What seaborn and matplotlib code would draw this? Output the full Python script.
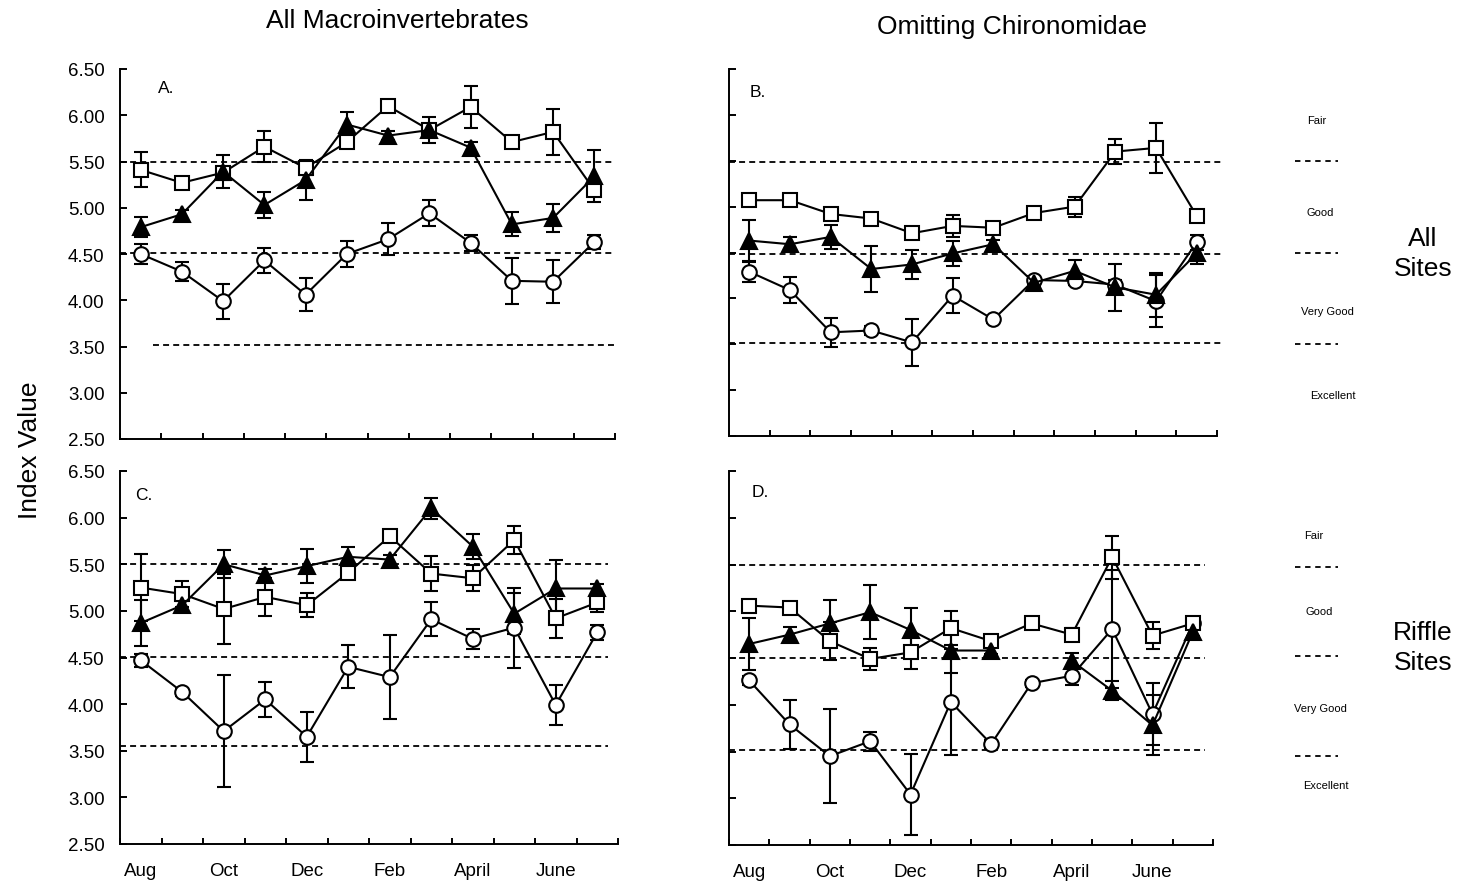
import numpy as np
import pandas as pd
import matplotlib
matplotlib.use("Agg")
import matplotlib.pyplot as plt
import matplotlib.transforms as mtransforms
from matplotlib.ticker import FormatStrFormatter
import seaborn as sns

sns.set_theme(style="ticks")
plt.rcParams["font.family"] = ["Liberation Sans", "DejaVu Sans"]
plt.rcParams.update({"text.color": "black", "axes.labelcolor": "black",
                     "xtick.color": "black", "ytick.color": "black",
                     "axes.edgecolor": "black"})

# Sampling months (Aug .. Jul), labelled every second month
months = np.arange(12) + 0.5
month_labels = ["Aug", "Oct", "Dec", "Feb", "April", "June"]
y_ticks = [2.5, 3.0, 3.5, 4.0, 4.5, 5.0, 5.5, 6.0, 6.5]
categories = ["Fair", "Good", "Very Good", "Excellent"]

# Panel A: all macroinvertebrates, all sites
sq_A = [5.41, 5.27, 5.38, 5.66, 5.43, 5.71, 6.10, 5.84, 6.09, 5.71, 5.82, 5.19]
sq_A_err = [0.19, 0.03, 0.05, 0.17, 0.08, 0.04, 0.04, 0.06, 0.23, 0.04, 0.25, 0.04]
tri_A = [4.79, 4.93, 5.39, 5.03, 5.30, 5.90, 5.78, 5.84, 5.65, 4.82, 4.89, 5.34]
tri_A_err = [0.11, 0.05, 0.18, 0.14, 0.22, 0.13, 0.05, 0.14, 0.06, 0.13, 0.15, 0.28]
circ_A = [4.50, 4.31, 3.99, 4.43, 4.06, 4.50, 4.66, 4.94, 4.62, 4.21, 4.20, 4.63]
circ_A_err = [0.11, 0.10, 0.19, 0.13, 0.18, 0.14, 0.17, 0.14, 0.09, 0.25, 0.23, 0.08]

# Panel B: omitting Chironomidae, all sites
sq_B = [5.07, 5.07, 4.92, 4.87, 4.71, 4.79, 4.77, 4.93, 5.00, 5.60, 5.64, 4.90]
sq_B_err = [0.05, 0.03, 0.04, 0.06, 0.03, 0.12, 0.03, 0.03, 0.11, 0.14, 0.27, 0.03]
tri_B = [4.63, 4.59, 4.67, 4.32, 4.37, 4.49, 4.59, 4.17, 4.30, 4.12, 4.04, 4.49]
tri_B_err = [0.22, 0.08, 0.13, 0.25, 0.16, 0.14, 0.05, 0.05, 0.12, 0.26, 0.24, 0.11]
circ_B = [4.29, 4.09, 3.63, 3.65, 3.52, 4.03, 3.77, 4.20, 4.19, 4.15, 3.97, 4.61]
circ_B_err = [0.11, 0.14, 0.16, 0.05, 0.26, 0.19, 0.04, 0.04, 0.04, 0.05, 0.28, 0.08]

# Panel C: all macroinvertebrates, riffle sites
sq_C = [5.25, 5.18, 5.02, 5.15, 5.06, 5.41, 5.80, 5.40, 5.35, 5.76, 4.92, 5.09]
sq_C_err = [0.36, 0.14, 0.38, 0.20, 0.13, 0.05, 0.05, 0.19, 0.14, 0.15, 0.21, 0.10]
tri_C = [4.87, 5.06, 5.50, 5.38, 5.48, 5.58, 5.55, 6.10, 5.69, 4.97, 5.24, 5.24]
tri_C_err = [0.25, 0.05, 0.15, 0.07, 0.18, 0.10, 0.05, 0.11, 0.13, 0.22, 0.31, 0.05]
circ_C = [4.47, 4.13, 3.71, 4.05, 3.65, 4.40, 4.29, 4.91, 4.70, 4.82, 3.99, 4.77]
circ_C_err = [0.07, 0.04, 0.60, 0.19, 0.27, 0.23, 0.45, 0.18, 0.11, 0.43, 0.21, 0.08]

# Panel D: omitting Chironomidae, riffle sites (no March triangle sample)
sq_D = [5.06, 5.04, 4.68, 4.49, 4.56, 4.82, 4.68, 4.87, 4.75, 5.58, 4.74, 4.87]
sq_D_err = [0.05, 0.05, 0.20, 0.12, 0.18, 0.18, 0.04, 0.04, 0.07, 0.23, 0.14, 0.05]
tri_D = [4.65, 4.75, 4.87, 4.99, 4.80, 4.58, 4.58, np.nan, 4.47, 4.15, 3.78, 4.78]
tri_D_err = [0.28, 0.08, 0.25, 0.29, 0.24, 0.24, 0.04, np.nan, 0.08, 0.10, 0.32, 0.05]
circ_D = [4.26, 3.79, 3.45, 3.61, 3.04, 4.03, 3.58, 4.23, 4.31, 4.81, 3.90, 4.87]
circ_D_err = [0.05, 0.26, 0.50, 0.10, 0.43, 0.57, 0.04, 0.04, 0.10, 0.63, 0.33, 0.05]

# Category boundaries drawn in each panel: (value, x start, x end)
bounds_A = [(5.50, 0.0, 12.0), (4.51, 0.0, 12.0), (3.52, 0.8, 12.0)]
bounds_B = [(5.49, 0.0, 12.1), (4.48, 0.0, 12.1), (3.51, 0.0, 12.1)]
bounds_C = [(5.50, 0.0, 11.75), (4.51, 0.0, 11.75), (3.55, 0.0, 11.75)]
bounds_D = [(5.49, 0.0, 11.8), (4.50, 0.0, 11.8), (3.52, 0.0, 11.8)]

# Boundary marks and category names in the right margin
margin_B = [5.50, 4.49, 3.50]
margin_D = [5.47, 4.52, 3.45]
cat_y_B = [5.94, 4.94, 3.86, 2.95]
cat_y_D = [5.82, 5.00, 3.97, 3.14]

W, H = 1461, 887
fig = plt.figure(figsize=(W / 100, H / 100), dpi=100)


def px_axes(left, right, top, bottom):
    return fig.add_axes([left / W, 1 - bottom / H, (right - left) / W, (bottom - top) / H])


axA = px_axes(120, 615, 70, 440)
axB = px_axes(729, 1217, 70, 437)
axC = px_axes(120, 618, 472, 845)
axD = px_axes(729, 1213, 472, 846)

marker_styles = {
    "square": dict(marker="s", ms=10.5, mfc="white"),
    "triangle": dict(marker="^", ms=11.5, mfc="black"),
    "circle": dict(marker="o", ms=10.5, mfc="white"),
}


def draw_series(ax, vals, errs, kind, z):
    vals = np.asarray(vals, float)
    errs = np.asarray(errs, float)
    ok = ~np.isnan(vals)
    ax.errorbar(months[ok], vals[ok], yerr=errs[ok], fmt="none", ecolor="black",
                elinewidth=1.5, capsize=5, capthick=1.5, zorder=2)
    df = pd.DataFrame({"month": months, "value": vals,
                       "segment": np.cumsum(np.isnan(vals))}).dropna()
    sns.lineplot(data=df, x="month", y="value", units="segment", estimator=None,
                 ax=ax, color="black", lw=1.5, mec="black", mew=1.5, zorder=z,
                 **marker_styles[kind])


panels = [
    (axA, "A.", (sq_A, sq_A_err), (tri_A, tri_A_err), (circ_A, circ_A_err), bounds_A, (0.077, 0.95)),
    (axB, "B.", (sq_B, sq_B_err), (tri_B, tri_B_err), (circ_B, circ_B_err), bounds_B, (0.043, 0.94)),
    (axC, "C.", (sq_C, sq_C_err), (tri_C, tri_C_err), (circ_C, circ_C_err), bounds_C, (0.03, 0.938)),
    (axD, "D.", (sq_D, sq_D_err), (tri_D, tri_D_err), (circ_D, circ_D_err), bounds_D, (0.047, 0.944)),
]

for ax, letter, sq, tri, circ, bounds, lpos in panels:
    for yv, x0, x1 in bounds:
        ax.plot([x0, x1], [yv, yv], color="black", lw=1.3, ls=(0, (3.3, 2.3)),
                clip_on=False, zorder=1)
    draw_series(ax, circ[0], circ[1], "circle", 3)
    draw_series(ax, sq[0], sq[1], "square", 4)
    draw_series(ax, tri[0], tri[1], "triangle", 5)
    ax.set(xlabel="", ylabel="")
    ax.set_xlim(0, 12)
    ax.set_ylim(2.5, 6.5)
    ax.set_xticks(np.arange(13))
    ax.set_xticklabels([])
    ax.set_xticks(months[::2], minor=True)
    ax.set_yticks(y_ticks)
    ax.yaxis.set_major_formatter(FormatStrFormatter("%.2f"))
    ax.tick_params(axis="x", which="major", direction="in", length=4, width=1.4)
    ax.tick_params(axis="x", which="minor", length=0, pad=13, labelsize=13.5)
    ax.tick_params(axis="y", direction="in", length=5, width=1.4, pad=11, labelsize=13.5)
    for side in ("left", "bottom"):
        ax.spines[side].set_linewidth(1.4)
        ax.spines[side].set_color("black")
    sns.despine(ax=ax)
    ax.text(lpos[0], lpos[1], letter, transform=ax.transAxes, fontsize=12.5,
            ha="left", va="center")

for ax in (axA, axB):
    ax.set_xticklabels([], minor=True)
for ax in (axC, axD):
    ax.set_xticklabels(month_labels, minor=True)
for ax in (axB, axD):
    ax.set_yticklabels([])

# Right-margin category key
cat_x = {axB: [1317, 1320, 1327, 1333], axD: [1314, 1319, 1320, 1326]}
for ax, marks, cat_y in ((axB, margin_B, cat_y_B), (axD, margin_D, cat_y_D)):
    blend = mtransforms.blended_transform_factory(fig.transFigure, ax.transData)
    for yv in marks:
        ax.plot([1295 / W, 1338 / W], [yv, yv], transform=blend, color="black",
                lw=1.3, ls=(0, (3.0, 2.6)), clip_on=False)
    for name, xv, yv in zip(categories, cat_x[ax], cat_y):
        ax.text(xv / W, yv, name, transform=blend, fontsize=8, ha="center", va="center")

fig.text(397 / W, 1 - 21 / H, "All Macroinvertebrates", fontsize=19, ha="center", va="center")
fig.text(1012 / W, 1 - 27 / H, "Omitting Chironomidae", fontsize=19, ha="center", va="center")
fig.text(30 / W, 1 - 450 / H, "Index Value", fontsize=19, rotation=90, ha="center", va="center")
fig.text(1423 / W, 1 - 254 / H, "All\nSites", fontsize=19, ha="center", va="center", linespacing=1.3)
fig.text(1423 / W, 1 - 648 / H, "Riffle\nSites", fontsize=19, ha="center", va="center", linespacing=1.3)

fig.savefig("out.png", dpi=100, facecolor="white")
